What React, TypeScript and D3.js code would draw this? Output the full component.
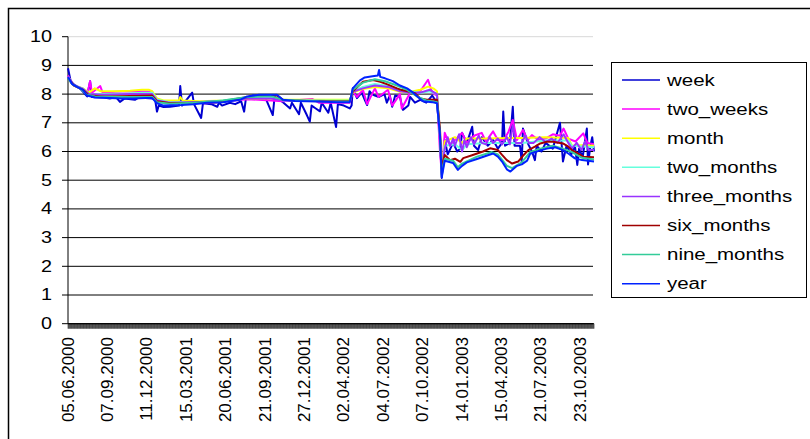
import React from "react";
import * as d3 from "d3";

const N = 882;
const tickLabels = ["05.06.2000","07.09.2000","11.12.2000","15.03.2001","20.06.2001","21.09.2001","27.12.2001","02.04.2002","04.07.2002","07.10.2002","14.01.2003","15.04.2003","21.07.2003","23.10.2003"];
const tickIdx = [0,66,132,198,264,330,396,462,528,594,660,726,792,858];
const yTicks = [0,1,2,3,4,5,6,7,8,9,10];

type P = [number, number];

const week: P[] = [[0,8.9],[5,8.4],[20,8.2],[32,7.92],[37,8.45],[40,7.9],[60,7.88],[70,7.85],[80,7.9],[87,7.73],[95,7.85],[112,7.8],[118,7.88],[141,7.85],[146,7.8],[149,7.39],[152,7.6],[160,7.55],[171,7.56],[186,7.6],[188,8.28],[191,7.6],[208,8.05],[211,7.65],[223,7.17],[226,7.68],[240,7.65],[250,7.56],[253,7.7],[258,7.6],[271,7.7],[280,7.65],[290,7.75],[295,7.39],[298,7.85],[310,7.95],[330,7.9],[343,7.27],[346,7.9],[360,7.72],[372,7.5],[375,7.7],[387,7.3],[390,7.7],[400,7.27],[405,7.04],[408,7.6],[415,7.5],[422,7.4],[425,7.7],[436,7.35],[440,7.7],[449,6.85],[452,7.65],[462,7.6],[472,7.5],[475,7.6],[477,8.2],[484,7.86],[492,8.05],[497,7.8],[501,7.62],[505,8.1],[509,8.0],[514,7.95],[521,7.9],[530,8.0],[534,7.7],[539,7.95],[543,7.56],[548,7.95],[556,7.9],[561,7.45],[570,7.6],[573,7.9],[581,7.7],[590,7.8],[600,7.7],[610,7.95],[618,7.7],[623,6.5],[626,5.08],[631,6.4],[636,5.9],[645,6.3],[652,6.0],[657,6.1],[660,6.65],[668,6.3],[677,6.86],[680,6.2],[687,6.05],[693,6.5],[703,6.2],[712,6.4],[720,6.1],[727,6.3],[729,7.39],[732,6.2],[740,6.3],[745,7.56],[748,6.2],[757,6.2],[760,5.65],[762,6.8],[771,6.25],[777,6.0],[782,5.7],[785,6.2],[793,6.0],[800,6.3],[812,6.1],[824,7.0],[827,6.2],[829,5.65],[835,6.2],[843,5.9],[849,6.2],[853,5.53],[856,6.1],[862,5.8],[869,6.8],[871,5.55],[875,6.2],[878,6.5],[881,6.0]];
const twoWeeks: P[] = [[0,8.65],[7,8.35],[20,8.22],[32,7.98],[37,8.45],[40,8.05],[54,8.28],[58,8.05],[80,8.08],[104,8.1],[141,8.08],[149,7.78],[171,7.72],[210,7.72],[230,7.68],[260,7.74],[300,7.82],[340,7.78],[360,7.75],[409,7.83],[420,7.7],[472,7.7],[477,8.1],[484,7.9],[494,8.15],[501,7.65],[514,8.2],[520,7.9],[536,8.15],[543,7.6],[556,8.0],[559,7.5],[573,8.05],[590,8.1],[603,8.5],[610,8.05],[618,7.95],[623,6.0],[626,5.25],[631,6.65],[640,6.2],[648,6.4],[660,6.65],[668,6.3],[680,6.55],[693,6.65],[700,6.35],[712,6.7],[720,6.4],[730,6.4],[738,6.7],[745,7.1],[752,6.4],[762,6.75],[770,6.4],[777,6.57],[788,6.4],[800,6.45],[812,6.6],[824,6.55],[830,6.8],[838,6.45],[850,6.35],[863,6.63],[870,6.3],[881,6.25]];
const month: P[] = [[0,8.6],[10,8.3],[25,8.2],[35,8.05],[45,8.2],[55,8.1],[80,8.1],[104,8.12],[124,8.15],[136,8.15],[141,8.1],[149,7.85],[160,7.78],[186,7.78],[188,7.9],[192,7.78],[220,7.75],[260,7.78],[300,7.85],[340,7.85],[360,7.8],[472,7.8],[477,8.05],[494,8.18],[514,8.25],[536,8.2],[556,8.08],[578,8.1],[590,8.15],[603,8.26],[612,8.2],[618,8.1],[623,6.5],[626,5.35],[631,6.35],[648,6.5],[660,6.3],[668,6.45],[700,6.45],[740,6.47],[760,6.47],[800,6.5],[838,6.47],[844,6.2],[860,6.22],[881,6.2]];
const twoMonths: P[] = [[0,8.6],[10,8.3],[25,8.2],[35,8.0],[60,8.0],[100,8.02],[124,8.05],[141,8.05],[149,7.8],[171,7.72],[210,7.72],[250,7.75],[300,7.88],[340,7.9],[360,7.78],[472,7.78],[477,8.1],[494,8.25],[514,8.35],[536,8.28],[556,8.15],[573,8.1],[590,8.05],[606,8.1],[618,8.0],[623,6.5],[626,5.3],[631,6.2],[648,6.25],[660,6.05],[668,6.25],[700,6.3],[740,6.3],[760,6.3],[800,6.38],[838,6.38],[844,6.2],[881,6.15]];
const threeMonths: P[] = [[0,8.6],[10,8.32],[25,8.18],[35,8.0],[60,7.98],[104,8.0],[141,8.0],[149,7.78],[171,7.7],[210,7.72],[260,7.76],[300,7.85],[340,7.85],[360,7.78],[472,7.75],[477,8.08],[494,8.2],[514,8.3],[536,8.25],[556,8.1],[578,8.05],[590,8.05],[606,8.15],[618,8.0],[623,6.4],[626,5.25],[631,6.1],[636,6.5],[640,6.2],[645,6.45],[648,6.2],[655,6.6],[660,6.0],[664,6.4],[668,6.15],[675,6.5],[680,6.25],[688,6.55],[693,6.3],[700,6.25],[706,6.5],[712,6.3],[720,6.45],[727,6.25],[735,6.5],[740,6.25],[745,6.9],[750,6.3],[760,6.3],[766,6.55],[772,6.3],[780,6.3],[790,6.5],[800,6.33],[810,6.45],[820,6.3],[830,6.6],[838,6.3],[844,6.1],[852,6.3],[860,6.05],[866,6.35],[872,6.05],[881,6.05]];
const sixMonths: P[] = [[0,8.55],[10,8.3],[25,8.15],[35,7.95],[60,7.92],[104,7.93],[141,7.95],[149,7.75],[171,7.68],[210,7.7],[250,7.72],[296,7.88],[320,7.96],[350,7.95],[360,7.8],[400,7.76],[472,7.75],[477,8.1],[494,8.43],[511,8.49],[523,8.43],[536,8.33],[551,8.2],[559,8.14],[573,8.08],[581,8.03],[590,7.85],[601,7.8],[618,7.8],[623,6.8],[626,5.4],[631,5.88],[640,5.7],[648,5.75],[657,5.64],[662,5.77],[678,5.88],[695,6.0],[707,6.11],[720,6.05],[727,5.88],[735,5.7],[744,5.58],[754,5.65],[762,5.85],[771,6.05],[782,6.17],[791,6.28],[802,6.34],[812,6.34],[829,6.28],[838,6.17],[844,6.05],[853,5.94],[863,5.82],[881,5.8]];
const nineMonths: P[] = [[0,8.55],[7,8.35],[20,8.2],[32,7.98],[45,7.92],[100,7.9],[141,7.9],[149,7.72],[171,7.66],[210,7.7],[260,7.78],[300,7.9],[340,7.93],[360,7.8],[420,7.75],[472,7.74],[477,8.15],[494,8.4],[514,8.52],[531,8.45],[551,8.3],[568,8.15],[586,7.9],[600,7.78],[618,7.72],[623,6.6],[626,5.2],[631,5.75],[645,5.68],[653,5.45],[660,5.58],[685,5.82],[710,5.98],[720,5.9],[735,5.5],[744,5.42],[760,5.62],[774,5.98],[791,6.1],[812,6.2],[829,6.1],[844,5.98],[861,5.78],[881,5.72]];
const year: P[] = [[0,8.6],[7,8.35],[15,8.25],[25,8.15],[32,7.95],[45,7.88],[70,7.86],[90,7.85],[110,7.85],[130,7.86],[141,7.86],[149,7.68],[160,7.6],[190,7.62],[210,7.65],[233,7.7],[260,7.72],[288,7.8],[300,7.92],[320,7.98],[350,7.98],[360,7.8],[380,7.76],[420,7.74],[450,7.72],[472,7.72],[477,8.2],[489,8.48],[497,8.58],[510,8.62],[519,8.65],[521,8.84],[523,8.6],[531,8.55],[544,8.45],[556,8.3],[568,8.2],[578,8.05],[586,7.9],[595,7.75],[610,7.72],[618,7.68],[623,6.6],[626,5.1],[631,5.68],[645,5.6],[653,5.36],[660,5.5],[668,5.62],[685,5.74],[702,5.86],[712,5.93],[720,5.82],[727,5.65],[735,5.38],[741,5.3],[752,5.5],[760,5.55],[769,5.68],[774,5.92],[791,6.04],[802,6.1],[816,6.15],[829,6.05],[838,5.93],[849,5.76],[861,5.7],[881,5.65]];

const seriesNames = ["week","two_weeks","month","two_months","three_months","six_months","nine_months","year"];
const seriesData = [week, twoWeeks, month, twoMonths, threeMonths, sixMonths, nineMonths, year];
const seriesColors = ["#0000D0","#FF00FF","#FFFF00","#66FFDD","#9933FF","#A00000","#33CC99","#0022FF"];

export default function App() {
  const x = d3.scaleLinear().domain([0, N - 1]).range([68, 594]);
  const y = d3.scaleLinear().domain([0, 10]).range([323.7, 36.7]);
  const line = d3.line<P>().x(d => x(d[0])).y(d => y(d[1]));
  const font = "'Liberation Sans', Arial, sans-serif";
  const cats = d3.range(N);
  return (
    <svg width={810} height={439} style={{ position: "absolute", left: 0, top: 0, background: "#fff" }} fontFamily={font}>
      <rect x={8.5} y={8.5} width={900} height={500} fill="#fff" stroke="#000" strokeWidth={1.5} />
      {yTicks.map(t => (
        <g key={t}>
          <line x1={x(0)} x2={593} y1={y(t)} y2={y(t)} stroke={t === 10 ? "#d8d8d8" : "#000"} strokeWidth={1} />
          <line x1={62} x2={68} y1={y(t)} y2={y(t)} stroke="#000" />
          <text transform={`translate(52,${y(t)}) scale(1.2,1)`} textAnchor="end" dominantBaseline="central" fontSize={16.5}>{t}</text>
        </g>
      ))}
      <g>
        {cats.map(i => (
          <line key={i} x1={x(i)} x2={x(i)} y1={y(0)} y2={y(0) + 5} stroke="#000" strokeWidth={0.55} />
        ))}
      </g>
      <line x1={68} x2={68} y1={y(10)} y2={y(0)} stroke="#000" />
      <line x1={68} x2={594} y1={y(0)} y2={y(0)} stroke="#000" />
      {tickLabels.map((l, k) => (
        <text key={l} transform={`translate(${x(tickIdx[k])},337) rotate(-90)`} textAnchor="end" dominantBaseline="central" fontSize={17}>{l}</text>
      ))}
      {seriesData.map((s, k) => (
        <path key={seriesNames[k]} d={line(s) || ""} fill="none" stroke={seriesColors[k]} strokeWidth={2} strokeLinejoin="round" />
      ))}
      <rect x={611.5} y={62.5} width={195} height={235} fill="#fff" stroke="#000" strokeWidth={1} />
      {seriesNames.map((n, k) => {
        const ry = 80 + 29.1 * k;
        return (
          <g key={n}>
            <line x1={622} x2={660} y1={ry} y2={ry} stroke={seriesColors[k]} strokeWidth={1.5} />
            <text transform={`translate(667,${ry}) scale(1.28,1)`} dominantBaseline="central" fontSize={16}>{n}</text>
          </g>
        );
      })}
    </svg>
  );
}
